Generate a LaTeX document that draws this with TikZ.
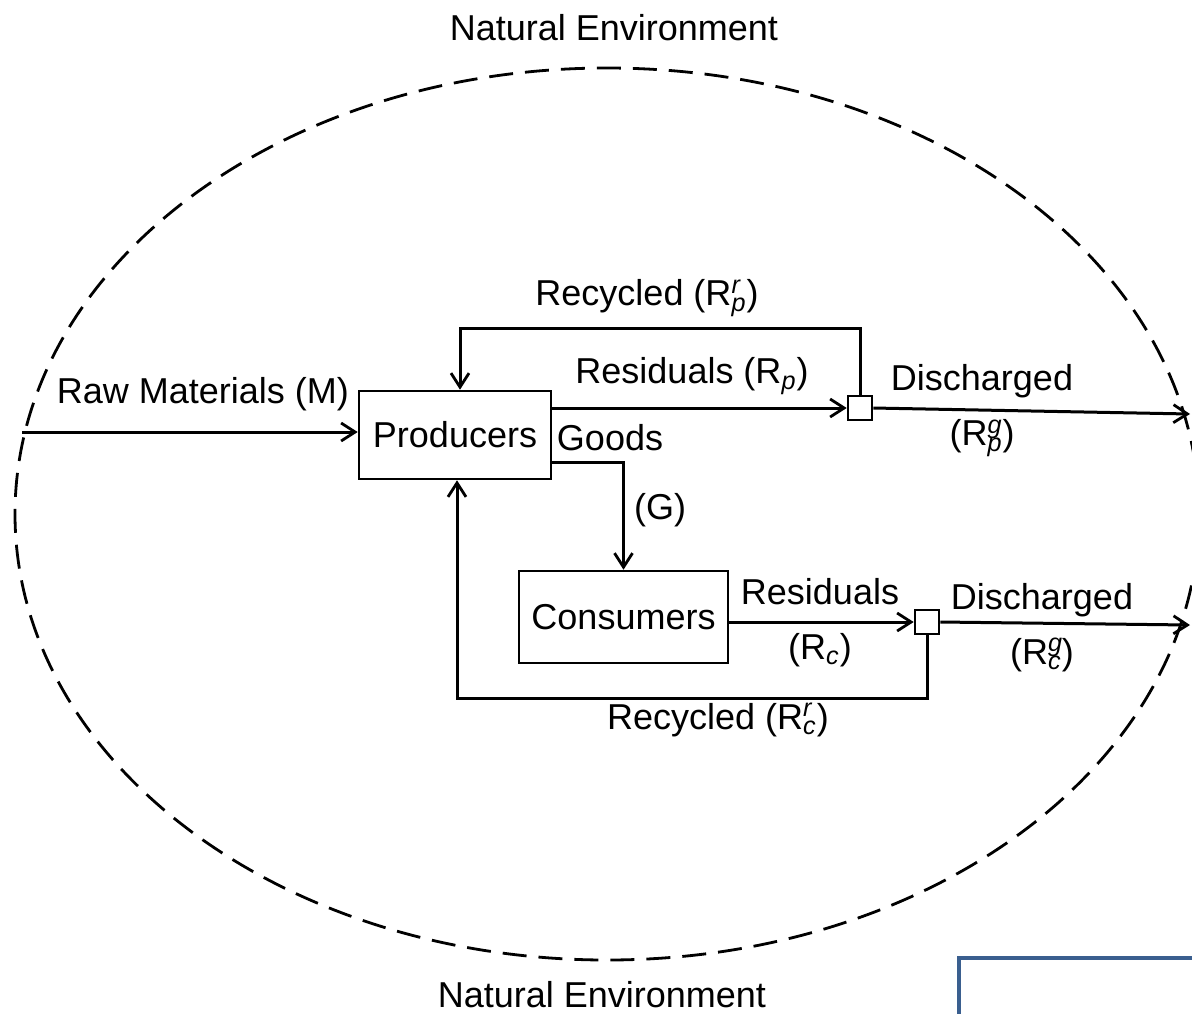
\documentclass[tikz,border=0pt]{standalone}
\usepackage{fontspec}
\setmainfont{Liberation Sans}
\usepackage{tikz}
\usetikzlibrary{arrows.meta}
\definecolor{frameblue}{RGB}{58,95,143}
\newcommand{\Rsub}[1]{R\textsubscript{\itshape #1}}
\newcommand{\Rsubsup}[2]{R\rlap{\textsuperscript{\itshape #2}}\textsubscript{\itshape #1}}

\begin{document}
\begin{tikzpicture}[x=0.5pt, y=-0.5pt, line width=1.5pt, font=\fontsize{18}{21}\selectfont,
	blockbox/.style={draw, line width=1.3pt, minimum width=96pt, minimum height=44pt, inner sep=0pt},
	junction/.style={draw, line width=1.3pt, minimum size=12pt, inner sep=0pt},
	flow/.style={-{Straight Barb[length=7pt, width=9pt, line width=1.4pt]}}]
	\clip (0,0) rectangle (1192,1013);
	\draw [line width=1.4pt, dash pattern=on 12pt off 6pt] (607,514) ellipse (592 and 446);
	\node[blockbox] (prod) at (455,435) {Producers};
	\node[blockbox, minimum width=104.5pt, minimum height=46pt] (cons) at (623.5,617) {Consumers};
	\node[junction] (jp) at (860,408) {};
	\node[junction] (jc) at (927,622) {};
	\coordinate (raw) at (22,432);
	\coordinate (outp) at (1190,414);
	\coordinate (outc) at (1190,625);
	\draw [flow] (raw) -- (raw -| prod.west);
	\draw [flow] (prod.east |- jp.west) -- (jp.west);
	\draw [flow] (jp.east) -- (outp);
	\draw [flow] (jp.north) -- ++(0,-66) -| ([xshift=2.5pt]prod.north);
	\draw [flow] ([yshift=-13.5pt]prod.east) -| (cons.north);
	\draw [flow] (cons.east |- jc.west) -- (jc.west);
	\draw [flow] (jc.east) -- (outc);
	\draw [flow] (jc.south) -- ++(0,63) -| ([xshift=1pt]prod.south);
	\path (614,28) node[align=center] (neTop) {Natural Environment}
		(602,995) node[align=center] (neBot) {Natural Environment}
		(203,394) node[align=center] (lRaw) {Raw Materials (M)}
		(647,298) node[align=center] (lRecP) {Recycled (\Rsubsup{p}{r})}
		(692,376) node[align=center] (lResP) {Residuals (\Rsub{p})}
		(610,438) node[align=center] (lGoods) {Goods}
		(660,510) node[align=center] (lG) {(G)}
		(982,381) node[align=center] (lDisP) {Discharged}
		(982,438) node[align=center] (lRgP) {(\Rsubsup{p}{g})}
		(820,592) node[align=center] (lResC) {Residuals}
		(820,650) node[align=center] (lRc) {(\Rsub{c})}
		(1042,600) node[align=center] (lDisC) {Discharged}
		(1042,655) node[align=center] (lRgC) {(\Rsubsup{c}{g})}
		(718,720) node[align=center] (lRecC) {Recycled (\Rsubsup{c}{r})};
	\draw [frameblue, line width=2pt] (959,1030) -- (959,958) -- (1210,958);
\end{tikzpicture}
\end{document}
